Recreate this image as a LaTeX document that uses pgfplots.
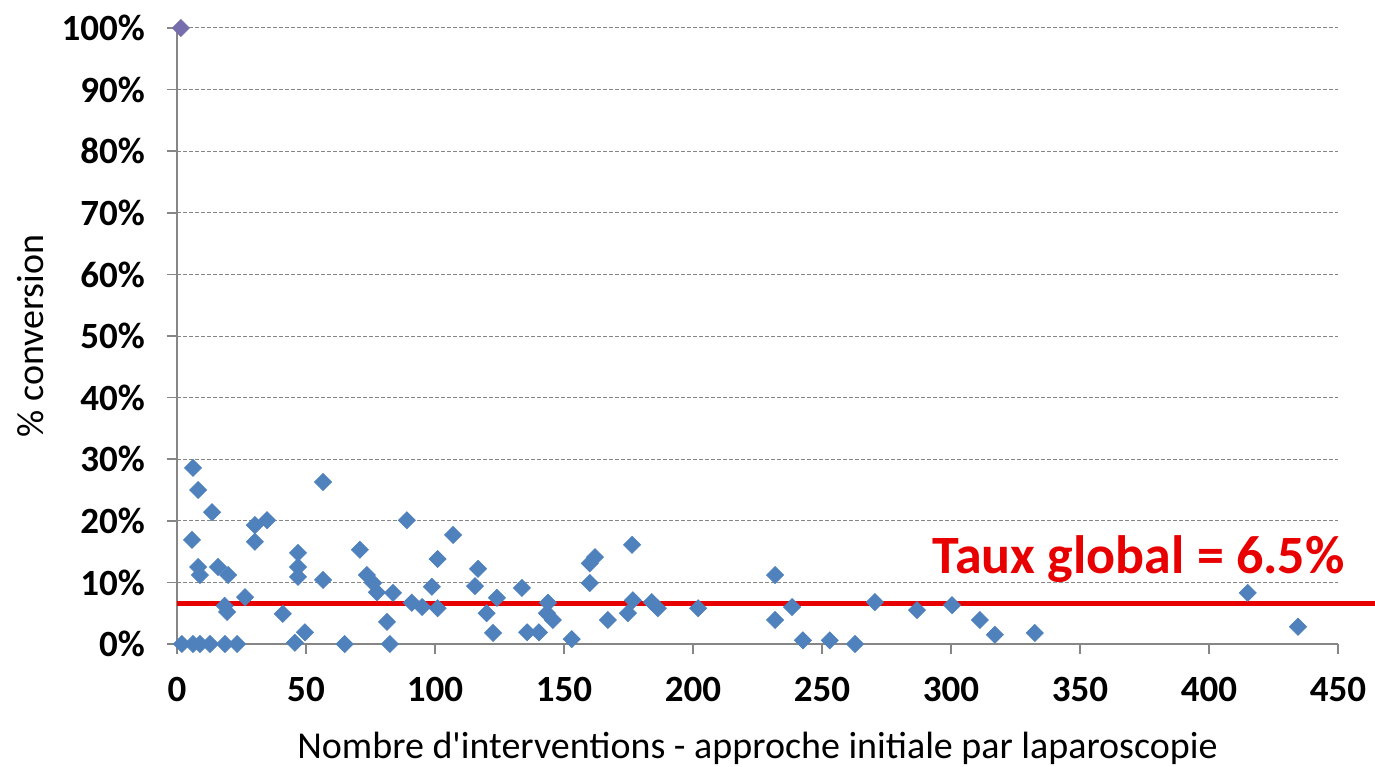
\documentclass[border=0pt]{standalone}
\usepackage{fontspec}
\setmainfont{Carlito}
\usepackage{pgfplots}
\pgfplotsset{compat=1.18}
\definecolor{ptblue}{RGB}{79,129,189}
\definecolor{ptpurple}{RGB}{118,110,172}
\definecolor{axgray}{RGB}{134,134,134}
\definecolor{tauxred}{RGB}{232,0,0}
\begin{document}
\begin{tikzpicture}
\path[use as bounding box] (-88.5pt,-61pt) rectangle (599pt,322pt);
\begin{axis}[
  width=580.5pt, height=308pt, scale only axis,
  xmin=0, xmax=450, ymin=0, ymax=100,
  axis x line=bottom, axis y line=left,
  axis line style={-, draw=axgray, line width=0.8pt},
  xtick={0,50,...,450}, ytick={0,10,...,100},
  tick align=outside, major tick length=5pt,
  tick style={axgray, line width=0.8pt},
  ymajorgrids, grid style={axgray, dash pattern=on 2pt off 1pt, line width=0.5pt},
  yticklabel={\pgfmathprintnumber{\tick}\%},
  ticklabel style={font=\bfseries\fontsize{18.5}{22}\selectfont},
  xticklabel style={yshift=-8pt},
  yticklabel style={xshift=-7.5pt},
  /pgf/number format/assume math mode=true,
  xlabel={Nombre d\textquotesingle interventions - approche initiale par laparoscopie},
  ylabel={\% conversion},
  label style={font=\fontsize{19}{22}\selectfont},
  xlabel style={at={([yshift=-52pt]axis description cs:0.5,0)}, anchor=center},
  ylabel style={at={([xshift=-73pt]axis description cs:0,0.5)}, anchor=center},
  clip=false,
]
% data points
\addplot[only marks, mark=square*, mark size=3pt,
  mark options={rotate=45, fill=ptblue, draw=ptblue}] coordinates {
(1.9,0) (6.2,0) (8.9,0) (12.8,0) (18.6,0) (23.3,0)
(6.2,28.6) (8.2,25.0) (13.6,21.4) (56.6,26.3) (30.2,19.3) (34.9,20.1)
(5.8,16.9) (30.2,16.6) (8.2,12.5) (8.9,11.2) (15.9,12.5) (19.8,11.2)
(46.9,14.8) (46.9,12.5) (46.9,10.9) (56.6,10.4) (70.9,15.3) (73.6,11.2)
(76,9.9) (77.5,8.4) (83.7,8.3) (26.4,7.6) (19.4,5.2) (18.5,6.2) (41,4.9)
(49.6,1.9) (45.7,0.2) (65,0) (81.4,3.6) (82.5,0)
(89.1,20.1) (107,17.7) (101,13.8) (116.7,12.2) (115.5,9.4) (98.8,9.3)
(91,6.7) (95,6.0) (101,5.8) (120,5) (124,7.5) (122.5,1.8)
(133.7,9.1) (135.7,1.9) (140.3,1.9) (143.8,6.7) (143.4,5.0) (145.7,3.9)
(153,0.8) (162,14.1) (160,13.1) (160,9.9) (167,3.9) (174.8,5)
(176.7,7.1) (176.4,16.1) (184,6.8) (186.4,5.8) (202,5.8)
(231.8,11.2) (231.8,3.9) (238.4,6.0) (242.6,0.6) (253,0.6) (262.8,0)
(270.5,6.8) (286.8,5.5) (300.4,6.3) (311.2,3.9) (317,1.5) (332.5,1.8)
(415,8.3) (434.5,2.8)
};
\addplot[only marks, mark=square*, mark size=3pt,
  mark options={rotate=45, fill=ptpurple, draw=ptpurple}] coordinates {(1.5,100)};
% overall rate
\addplot[tauxred, line width=2.5pt, no marks] coordinates {(0,6.5) (464.5,6.5)};
\node[anchor=base east, text=tauxred, inner sep=0pt,
  font=\bfseries\fontsize{27}{32}\selectfont] at (axis cs:452.7,11.5) {Taux global = 6.5\%};
\end{axis}
\end{tikzpicture}
\end{document}
